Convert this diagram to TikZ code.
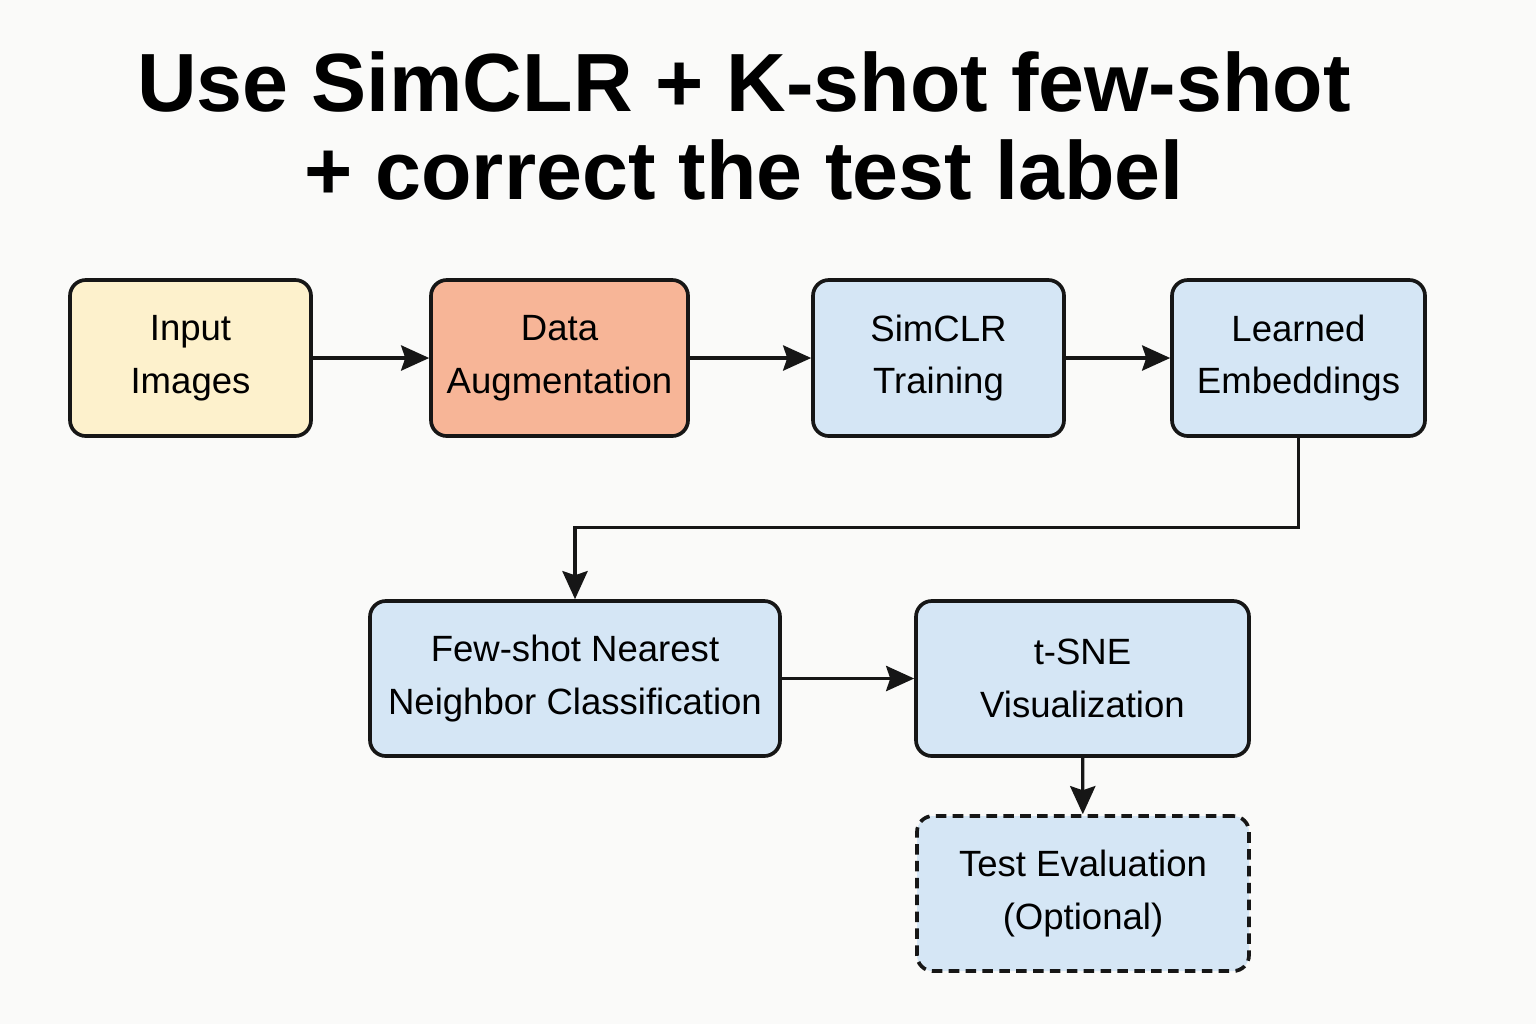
\documentclass[tikz,border=0pt]{standalone}
\usepackage{fontspec}
\setmainfont{Liberation Sans}
\usetikzlibrary{arrows.meta,positioning}
\definecolor{bgpaper}{RGB}{250,250,249}
\definecolor{inyellow}{RGB}{253,241,204}
\definecolor{augorange}{RGB}{247,181,151}
\definecolor{stageblue}{RGB}{213,230,245}
\definecolor{edgeink}{RGB}{22,22,22}
\begin{document}
\begin{tikzpicture}[x=1cm, y=1cm,
  stage/.style={draw=edgeink, line width=1.05pt, rounded corners=4.5pt, align=center,
    inner sep=0pt, font=\fontsize{10.4}{15}\selectfont, text=black},
  flow/.style={draw=edgeink, line width=0.9pt, -{Stealth[length=8pt, width=7.2pt, inset=1.2pt]}}]
\fill[bgpaper] (0,0) rectangle (15.36,-10.24);
\useasboundingbox (0,0) rectangle (15.36,-10.24);
% --- title ---
\node[align=center, font=\fontsize{23.5}{24.8}\selectfont\bfseries] (title) at (7.44,-1.26)
  {Use SimCLR + K-shot few-shot\\+ correct the test label};
% --- top row ---
\node[stage, fill=inyellow, minimum width=2.41cm, minimum height=1.56cm] (input) at (1.905,-3.58) {Input\\Images};
\node[stage, fill=augorange, minimum width=2.57cm, minimum height=1.56cm] (augment) at (5.595,-3.58) {Data\\Augmentation};
\node[stage, fill=stageblue, minimum width=2.51cm, minimum height=1.56cm] (simclr) at (9.385,-3.58) {SimCLR\\Training};
\node[stage, fill=stageblue, minimum width=2.53cm, minimum height=1.56cm] (embed) at (12.985,-3.58) {Learned\\Embeddings};
% --- bottom row ---
\node[stage, fill=stageblue, minimum width=4.10cm, minimum height=1.55cm] (fewshot) at (5.75,-6.785) {Few-shot Nearest\\Neighbor Classification};
\node[stage, fill=stageblue, minimum width=3.33cm, minimum height=1.55cm] (tsne) at (10.825,-6.785) {t-SNE\\Visualization};
\node[stage, fill=stageblue, dash pattern=on 3pt off 1.8pt, minimum width=3.32cm, minimum height=1.55cm] (testeval) at (10.83,-8.935) {Test Evaluation\\(Optional)};
% --- connectors ---
\draw[flow] (input) -- (augment);
\draw[flow] (augment) -- (simclr);
\draw[flow] (simclr) -- (embed);
\draw[flow] (embed.south) -- ++(0,-0.90) -| (fewshot.north);
\draw[flow] (fewshot) -- (tsne);
\draw[flow] (tsne) -- (testeval);
\end{tikzpicture}
\end{document}
